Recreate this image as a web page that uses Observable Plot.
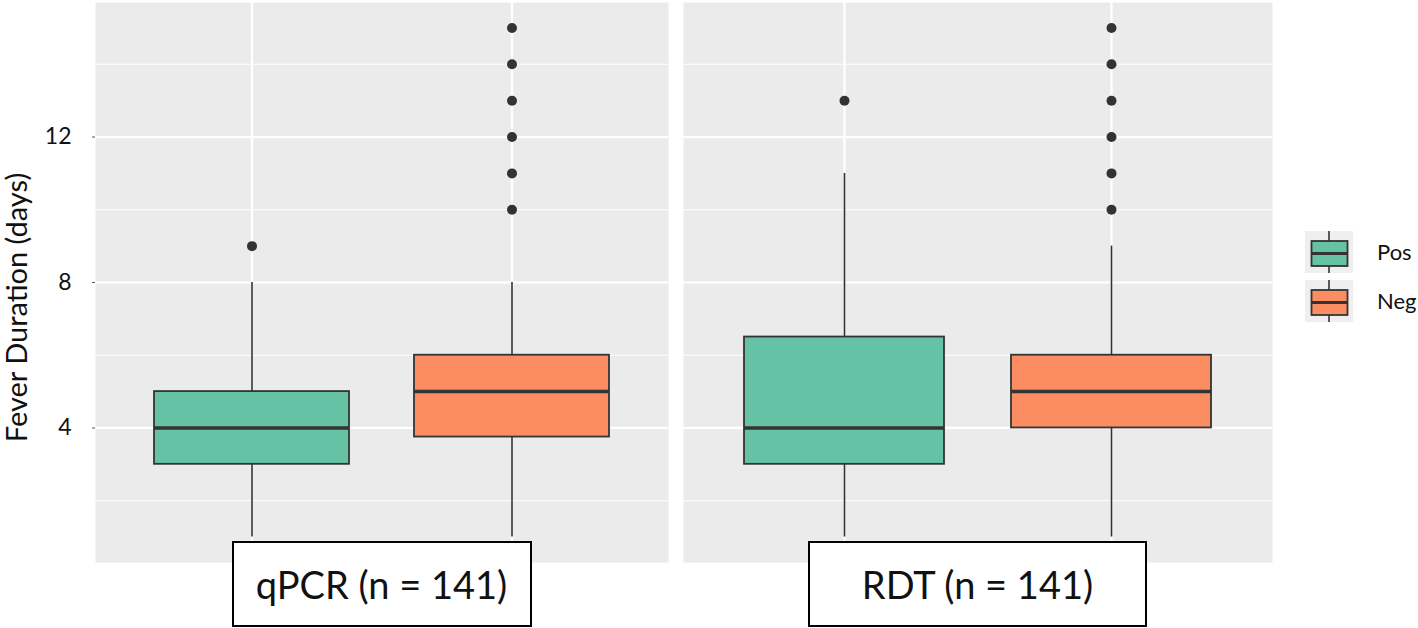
<!DOCTYPE html>
<html>
<head>
<meta charset="utf-8">
<script src="https://cdn.jsdelivr.net/npm/d3@7"></script>
<script src="https://cdn.jsdelivr.net/npm/@observablehq/plot@0.6"></script>
<style>
  html, body { margin: 0; padding: 0; background: #fff; }
  #chart { position: relative; width: 1418px; height: 628px; font-family: Lato, "Open Sans", sans-serif; overflow: hidden; }
  #chart > svg { position: absolute; top: 0; }
  .facet-label { position: absolute; box-sizing: border-box; border: 2.5px solid #000; background: #fff;
    display: flex; align-items: center; justify-content: center; font-size: 38px; color: #111; }
  .ytitle { position: absolute; font-size: 29px; line-height: 1; color: #111; white-space: nowrap; transform-origin: center center; }
  .legend-key { position: absolute; display: block; }
  .legend-text { position: absolute; font-size: 22px; line-height: 1; color: #111; white-space: nowrap; }
</style>
</head>
<body>
<div id="chart"></div>
<script>
// ---- data ----
const panels = ["qPCR (n = 141)", "RDT (n = 141)"];
const groups = ["Pos", "Neg"];
const colors = ["#66C2A5", "#FC8D62"];
const yTicks = [4, 8, 12];
const yMinor = [2, 6, 10, 14];
const whiskerLow  = [[1, 1], [1, 1]];
const q1          = [[3, 3.75], [3, 4]];
const median      = [[4, 5], [4, 5]];
const q3          = [[5, 6], [6.5, 6]];
const whiskerHigh = [[8, 8], [11, 9]];
const outliers    = [[[9], [10, 11, 12, 13, 14, 15]], [[13], [10, 11, 12, 13, 14, 15]]];

const chart = document.getElementById("chart");
const H = 628;
const layout = [ {left: 0, width: 668, marginLeft: 95}, {left: 683, width: 589, marginLeft: 0} ];

panels.forEach((panel, p) => {
  const stats = groups.map((g, i) => ({
    group: g, lo: whiskerLow[p][i], q1: q1[p][i], med: median[p][i], q3: q3[p][i], hi: whiskerHigh[p][i]
  }));
  const outs = groups.flatMap((g, i) => outliers[p][i].map(v => ({group: g, value: v})));
  const L = layout[p];
  const marks = [
    Plot.frame({fill: "#EBEBEB"}),
    Plot.ruleY(yMinor, {stroke: "#fff", strokeWidth: 1.1}),
    Plot.ruleY(yTicks, {stroke: "#fff", strokeWidth: 2.2}),
    Plot.ruleX(groups, {x: d => d, stroke: "#fff", strokeWidth: 2.2}),
    Plot.ruleX(stats, {x: "group", y1: "lo", y2: "q1", stroke: "#333", strokeWidth: 1.6}),
    Plot.ruleX(stats, {x: "group", y1: "q3", y2: "hi", stroke: "#333", strokeWidth: 1.6}),
    Plot.barY(stats, {x: "group", y1: "q1", y2: "q3", fill: "group", stroke: "#333", strokeWidth: 1.8}),
    Plot.tickY(stats, {x: "group", y: "med", stroke: "#333", strokeWidth: 3.5}),
    Plot.dot(outs, {x: "group", y: "value", r: 5, fill: "#333", stroke: "none"})
  ];
  if (p === 0) {
    marks.push(Plot.axisY({ticks: yTicks, tickSize: 3, tickPadding: 21, fontSize: 23, label: null, stroke: "#555", fill: "#111"}));
  }
  const svg = Plot.plot({
    width: L.width, height: H,
    marginLeft: L.marginLeft, marginRight: 0, marginTop: 2, marginBottom: 66,
    style: {fontFamily: "Lato, 'Open Sans', sans-serif", background: "transparent", overflow: "visible"},
    x: {domain: groups, paddingInner: 0.25, paddingOuter: 0.225, axis: null},
    y: {domain: [0.3, 15.7], axis: null},
    color: {domain: groups, range: colors},
    marks
  });
  svg.style.left = L.left + "px";
  chart.appendChild(svg);

  // facet label box, centred under the panel
  const x0 = L.left + L.marginLeft, x1 = L.left + L.width;
  const boxW = p === 0 ? 300 : 339;
  const lab = document.createElement("div");
  lab.className = "facet-label";
  lab.textContent = panel;
  lab.style.left = ((x0 + x1) / 2 - boxW / 2) + "px";
  lab.style.top = "541px";
  lab.style.width = boxW + "px";
  lab.style.height = "86px";
  chart.appendChild(lab);
});

// y axis title
const yt = document.createElement("div");
yt.className = "ytitle";
yt.textContent = "Fever Duration (days)";
chart.appendChild(yt);
const r = yt.getBoundingClientRect();
yt.style.left = (16 - r.width / 2) + "px";
yt.style.top = (307 - r.height / 2) + "px";
yt.style.transform = "rotate(-90deg)";

// legend
const color = Plot.scale({color: {domain: groups, range: colors}});
groups.forEach((g, i) => {
  const top = 231 + i * 49;
  const ns = "http://www.w3.org/2000/svg";
  const key = document.createElementNS(ns, "svg");
  key.setAttribute("width", 48);
  key.setAttribute("height", 42);
  key.setAttribute("class", "legend-key");
  key.style.left = "1305px";
  key.style.top = top + "px";
  key.innerHTML = `
    <rect x="0" y="0" width="48" height="42" fill="#EFEFEF"/>
    <line x1="24" x2="24" y1="0" y2="42" stroke="#333" stroke-width="1.6"/>
    <rect x="6.5" y="10" width="36" height="25" fill="${color.apply(g)}" stroke="#333" stroke-width="1.8"/>
    <line x1="6.5" x2="42.5" y1="22.5" y2="22.5" stroke="#333" stroke-width="3"/>`;
  chart.appendChild(key);
  const t = document.createElement("div");
  t.className = "legend-text";
  t.textContent = g;
  t.style.left = "1377px";
  t.style.top = (top + 21 - 11) + "px";
  chart.appendChild(t);
});
</script>
</body>
</html>
